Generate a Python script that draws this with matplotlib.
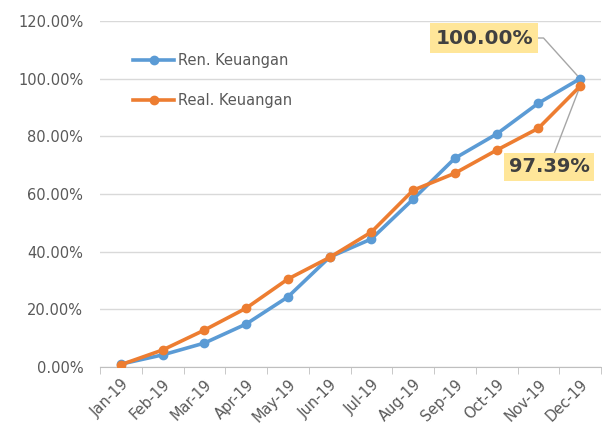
import numpy as np
import matplotlib
matplotlib.use("Agg")
import matplotlib.pyplot as plt

months = ["Jan-19", "Feb-19", "Mar-19", "Apr-19", "May-19", "Jun-19",
          "Jul-19", "Aug-19", "Sep-19", "Oct-19", "Nov-19", "Dec-19"]
ren = [1.0, 4.2, 8.3, 14.9, 24.3, 38.1, 44.4, 58.2, 72.4, 80.8, 91.5, 100.0]
real = [0.8, 5.9, 12.8, 20.4, 30.5, 38.0, 46.8, 61.3, 67.2, 75.2, 82.8, 97.39]
yticks = [0, 20, 40, 60, 80, 100, 120]

blue = '#5B9BD5'
orange = '#ED7D31'
grey_txt = '#595959'

fig = plt.figure(figsize=(6.02, 4.32), dpi=100)
ax = fig.add_axes([100/602, 1-367/432, 501/602, 346/432])
x = np.arange(len(months))

ax.plot(x, ren, color=blue, lw=2.6, marker='o', ms=6, label="Ren. Keuangan", zorder=3)
ax.plot(x, real, color=orange, lw=2.6, marker='o', ms=6, label="Real. Keuangan", zorder=4)

ax.set_xlim(-0.5, len(months) - 0.5)
ax.set_ylim(0, 120)
ax.set_yticks(yticks)
ax.set_yticklabels(["%.2f%%" % v for v in yticks], fontsize=10.5, color=grey_txt)
ax.tick_params(axis='y', length=0, pad=12)
ax.grid(axis='y', color='#D9D9D9', lw=1)
ax.set_axisbelow(True)

ax.set_xticks(x)
ax.set_xticklabels(months, rotation=45, ha='right', rotation_mode='anchor',
                   fontsize=10.5, color=grey_txt)
ax.tick_params(axis='x', length=0, pad=7)
ax.set_xticks(np.arange(-0.5, len(months)), minor=True)
ax.tick_params(axis='x', which='minor', length=5, color='#BFBFBF')

for s in ['top', 'right', 'left']:
    ax.spines[s].set_visible(False)
ax.spines['bottom'].set_color('#BFBFBF')

leg = ax.legend(loc='upper left', bbox_to_anchor=(0.04, 0.945), frameon=False,
                fontsize=10.5, handlelength=2.8, handletextpad=0.3,
                labelspacing=1.7, labelcolor=grey_txt)

box = dict(boxstyle='square,pad=0.25', fc='#FFE699', ec='none')
ax.annotate("%.2f%%" % ren[-1], xy=(x[-1], ren[-1]), xytext=(484, 394),
            textcoords='figure pixels', ha='center', va='center',
            fontsize=14.5, fontweight='bold', color='#404040', bbox=box,
            arrowprops=dict(arrowstyle='-', color='#A6A6A6', lw=1,
                            connectionstyle='angle,angleA=0,angleB=-48,rad=0',
                            shrinkA=0, shrinkB=3))
ax.annotate("%.2f%%" % real[-1], xy=(x[-1], real[-1]), xytext=(549, 265),
            textcoords='figure pixels', ha='center', va='center',
            fontsize=14, fontweight='bold', color='#404040', bbox=box,
            arrowprops=dict(arrowstyle='-', color='#A6A6A6', lw=1,
                            shrinkA=0, shrinkB=3))

plt.savefig('out.png', dpi=100)
